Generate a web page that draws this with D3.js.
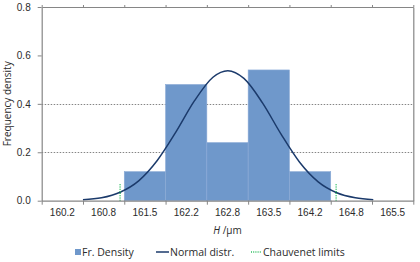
<!DOCTYPE html>
<html>
<head>
<meta charset="utf-8">
<script src="https://cdn.jsdelivr.net/npm/d3@7"></script>
<style>
  body { margin: 0; background: #fff; }
  svg { display: block; font-family: "Open Sans", Lato, sans-serif; }
</style>
</head>
<body>
<div id="chart"></div>
<script>
const width = 420, height = 262;

// categories (bin centres, as printed on the axis)
const categories = ["160.2", "160.8", "161.5", "162.2", "162.8", "163.5", "164.2", "164.8", "165.5"];
// frequency density per bin
const densities = [0, 0, 0.12, 0.48, 0.24, 0.54, 0.12, 0, 0];
// first bin centre and bin width, in µm
const hStart = 160.167;
const binWidth = 0.667;
// normal distribution curve: [H, density]
const normalCurve = [
  [160.5, 0.004], [160.8, 0.012], [161.1, 0.035], [161.4, 0.082], [161.7, 0.166],
  [162.0, 0.283], [162.3, 0.412], [162.6, 0.510], [162.84, 0.537], [163.1, 0.505],
  [163.4, 0.404], [163.7, 0.275], [164.0, 0.159], [164.3, 0.078], [164.6, 0.033],
  [164.9, 0.012], [165.19, 0.004]
];
// Chauvenet limits
const chauvenet = [161.1, 164.59];
const chauvenetHeight = 0.07;
const yTicks = [0, 0.2, 0.4, 0.6, 0.8];
const gridLines = [0.2, 0.4];

const margin = {left: 41.7, right: 6.7, top: 7, bottom: 61.3};
const x0 = margin.left, x1 = width - margin.right;
const y0 = height - margin.bottom, y1 = margin.top;

const xBand = d3.scaleBand().domain(categories).range([x0, x1]).padding(0);
const xH = d3.scaleLinear()
  .domain([hStart - binWidth / 2, hStart + (categories.length - 0.5) * binWidth])
  .range([x0, x1]);
const y = d3.scaleLinear().domain([0, 0.8]).range([y0, y1]);

const boundaries = d3.range(categories.length + 1).map(i => hStart + (i - 0.5) * binWidth);

const svg = d3.select("#chart").append("svg")
  .attr("width", width).attr("height", height)
  .attr("viewBox", [0, 0, width, height]);

const axisColor = "#868686";
const textColor = "#2b2b2b";
const green = "#2fbf62";

// grid
svg.append("g")
  .selectAll("line")
  .data(gridLines)
  .join("line")
  .attr("x1", x0).attr("x2", x1)
  .attr("y1", d => Math.round(y(d)) + 0.5).attr("y2", d => Math.round(y(d)) + 0.5)
  .attr("stroke", "#666")
  .attr("stroke-width", 0.8)
  .attr("stroke-dasharray", "1.5,1.5");

// bars
svg.append("g")
  .selectAll("rect")
  .data(categories.map((c, i) => ({c, v: densities[i]})).filter(d => d.v > 0))
  .join("rect")
  .attr("x", d => xBand(d.c))
  .attr("y", d => y(d.v))
  .attr("width", xBand.bandwidth())
  .attr("height", d => y(0) - y(d.v))
  .attr("fill", "#6f98cb")
  .attr("stroke", "#8aaad6")
  .attr("stroke-width", 0.6);

// normal curve
svg.append("path")
  .datum(normalCurve)
  .attr("fill", "none")
  .attr("stroke", "#1b3a6b")
  .attr("stroke-width", 1.5)
  .attr("d", d3.line().x(d => xH(d[0])).y(d => y(d[1])).curve(d3.curveMonotoneX));

// Chauvenet limits
svg.append("g")
  .selectAll("line")
  .data(chauvenet)
  .join("line")
  .attr("x1", d => xH(d)).attr("x2", d => xH(d))
  .attr("y1", y(0)).attr("y2", y(chauvenetHeight))
  .attr("stroke", green)
  .attr("stroke-width", 1.5)
  .attr("stroke-dasharray", "1,1.2");

function styleAxis(g) {
  g.select(".domain").attr("stroke", axisColor).attr("stroke-width", 1.2);
  g.selectAll(".tick line").attr("stroke", axisColor).attr("stroke-width", 1);
  g.selectAll(".tick text").attr("fill", textColor).attr("font-size", 10).attr("font-family", null);
}

// bottom axis: boundary ticks
svg.append("g")
  .attr("transform", `translate(0,${y0})`)
  .call(d3.axisBottom(xH).tickValues(boundaries).tickSize(4).tickSizeOuter(0).tickFormat(""))
  .call(styleAxis);
// bottom axis: category labels
svg.append("g")
  .attr("transform", `translate(0,${y0})`)
  .call(d3.axisBottom(xBand).tickSize(0).tickPadding(8))
  .call(g => g.select(".domain").remove())
  .call(styleAxis);

// top axis
svg.append("g")
  .attr("transform", `translate(0,${y1})`)
  .call(d3.axisTop(xH).tickValues(boundaries).tickSize(2).tickSizeOuter(0).tickFormat(""))
  .call(styleAxis);

// left axis
svg.append("g")
  .attr("transform", `translate(${x0},0)`)
  .call(d3.axisLeft(y).tickValues(yTicks).tickFormat(d3.format(".1f")).tickSize(4).tickSizeOuter(0).tickPadding(7))
  .call(styleAxis);

// right axis
svg.append("g")
  .attr("transform", `translate(${x1},0)`)
  .call(d3.axisRight(y).tickValues([0, 0.8]).tickSize(0).tickSizeOuter(0).tickFormat(""))
  .call(styleAxis);

// axis titles
svg.append("text")
  .attr("transform", `translate(11,${(y0 + y1) / 2}) rotate(-90)`)
  .attr("text-anchor", "middle")
  .attr("fill", textColor)
  .attr("font-size", 10)
  .text("Frequency density");

const xt = svg.append("text")
  .attr("x", (x0 + x1) / 2)
  .attr("y", 234)
  .attr("text-anchor", "middle")
  .attr("fill", textColor)
  .attr("font-size", 10);
xt.append("tspan").attr("font-style", "italic").text("H");
xt.append("tspan").text(" /µm");

// legend
const legend = svg.append("g").attr("font-size", 10.5).attr("fill", textColor);
const ly = 252;
legend.append("rect").attr("x", 75).attr("y", ly - 3).attr("width", 6).attr("height", 6).attr("fill", "#6f98cb");
legend.append("text").attr("x", 82).attr("y", ly).attr("dy", "0.35em").text("Fr. Density");
legend.append("line").attr("x1", 156).attr("x2", 169).attr("y1", ly).attr("y2", ly)
  .attr("stroke", "#1b3a6b").attr("stroke-width", 1.5);
legend.append("text").attr("x", 170).attr("y", ly).attr("dy", "0.35em").text("Normal distr.");
legend.append("line").attr("x1", 251).attr("x2", 262).attr("y1", ly).attr("y2", ly)
  .attr("stroke", green).attr("stroke-width", 1.5).attr("stroke-dasharray", "1,1.2");
legend.append("text").attr("x", 263).attr("y", ly).attr("dy", "0.35em").text("Chauvenet limits");
</script>
</body>
</html>
